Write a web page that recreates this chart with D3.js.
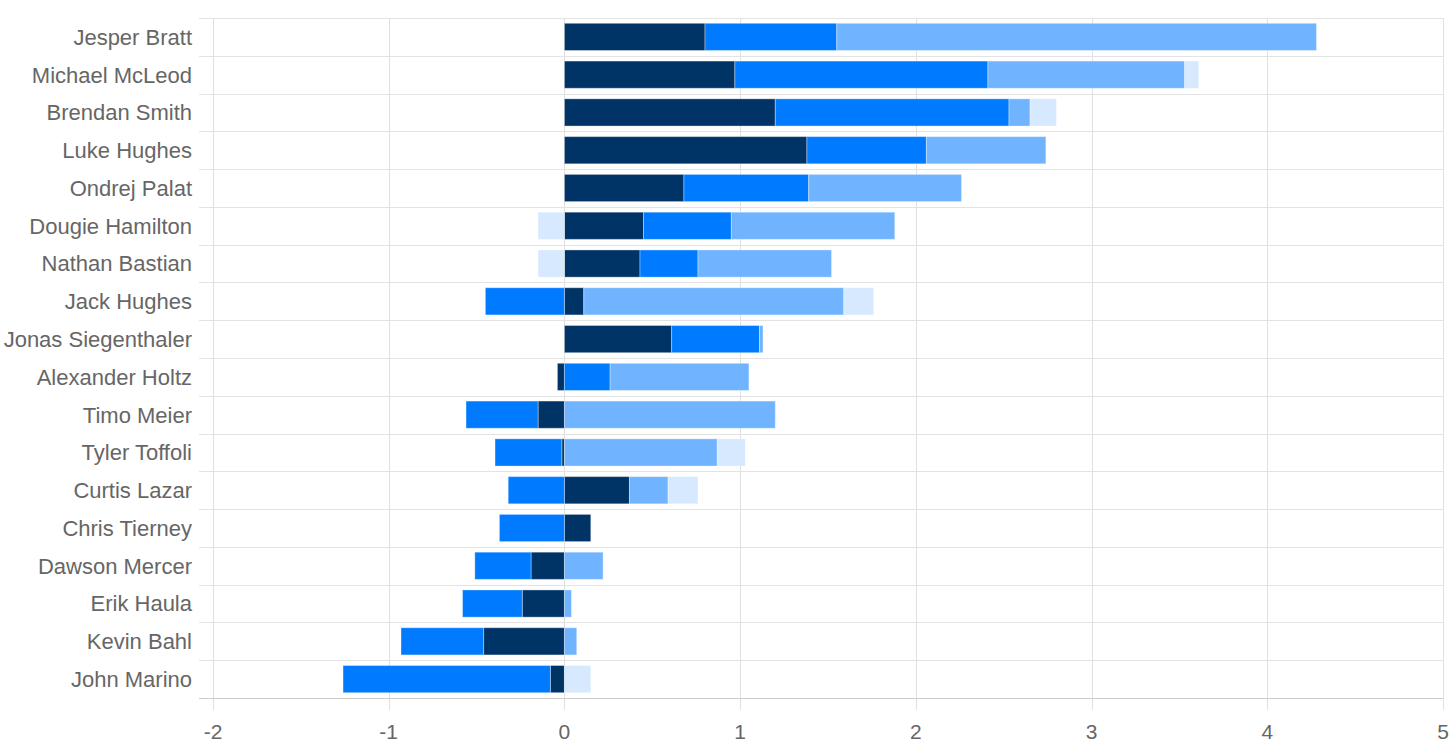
<!DOCTYPE html>
<html>
<head>
<meta charset="utf-8">
<script src="https://cdn.jsdelivr.net/npm/d3@7"></script>
<style>
  html, body { margin: 0; padding: 0; background: #ffffff; }
  svg { display: block; }
  text { font-family: "Liberation Sans", Arial, Helvetica, sans-serif; }
</style>
</head>
<body>
<div id="chart"></div>
<script>
const players = ["Jesper Bratt", "Michael McLeod", "Brendan Smith", "Luke Hughes", "Ondrej Palat",
  "Dougie Hamilton", "Nathan Bastian", "Jack Hughes", "Jonas Siegenthaler", "Alexander Holtz",
  "Timo Meier", "Tyler Toffoli", "Curtis Lazar", "Chris Tierney", "Dawson Mercer",
  "Erik Haula", "Kevin Bahl", "John Marino"];

const seriesNavy   = [0.80, 0.97, 1.20, 1.38, 0.68, 0.45, 0.43, 0.11, 0.61, -0.04, -0.15, -0.015, 0.37, 0.15, -0.19, -0.24, -0.46, -0.08];
const seriesBlue   = [0.75, 1.44, 1.33, 0.68, 0.71, 0.50, 0.33, -0.45, 0.50, 0.26, -0.41, -0.38, -0.32, -0.37, -0.32, -0.34, -0.47, -1.18];
const seriesLight  = [2.73, 1.12, 0.12, 0.68, 0.87, 0.93, 0.76, 1.48, 0.02, 0.79, 1.20, 0.87, 0.22, 0, 0.22, 0.04, 0.07, 0];
const seriesPale   = [0, 0.08, 0.15, 0, 0, -0.15, -0.15, 0.17, 0, 0, 0, 0.16, 0.17, 0, 0, 0, 0, 0.15];

const xTicks = [-2, -1, 0, 1, 2, 3, 4, 5];

const keys = ["navy", "blue", "light", "pale"];
const colors = { navy: "#003366", blue: "#007bff", light: "#70b4ff", pale: "#d6e9ff" };

const rows = players.map((p, i) => ({
  name: p, navy: seriesNavy[i], blue: seriesBlue[i], light: seriesLight[i], pale: seriesPale[i]
}));

(function () {
  const W = 1456, H = 751;
  const pl = 213, pr = 1443, pt = 18, pb = 698;

  const svg = d3.select("#chart").append("svg").attr("width", W).attr("height", H);

  const x = d3.scaleLinear().domain([-2, 5]).range([pl, pr]);
  const y = d3.scaleBand().domain(players).range([pt, pb]).paddingInner(0.28).paddingOuter(0.14);
  const step = y.step();

  // vertical grid lines
  svg.append("g").selectAll("line").data(xTicks).join("line")
    .attr("x1", d => Math.round(x(d)) + 0.5).attr("x2", d => Math.round(x(d)) + 0.5)
    .attr("y1", pt).attr("y2", pb + 12)
    .attr("stroke", "#e0e0e0").attr("stroke-width", 1);

  // horizontal band boundary lines
  const bounds = d3.range(players.length + 1);
  svg.append("g").selectAll("line").data(bounds).join("line")
    .attr("x1", pl - 14).attr("x2", pr)
    .attr("y1", d => Math.round(pt + d * step) + 0.5).attr("y2", d => Math.round(pt + d * step) + 0.5)
    .attr("stroke", d => d === players.length ? "#cccccc" : "#e3e3e3").attr("stroke-width", 1);

  // stacked bars
  const stack = d3.stack().keys(keys).offset(d3.stackOffsetDiverging);
  const stacked = stack(rows);

  svg.append("g").selectAll("g").data(stacked).join("g")
    .attr("fill", d => colors[d.key])
    .selectAll("rect").data(d => d.filter(v => v[1] !== v[0])).join("rect")
    .attr("x", d => x(Math.min(d[0], d[1])))
    .attr("width", d => Math.abs(x(d[1]) - x(d[0])))
    .attr("y", d => y(d.data.name))
    .attr("height", y.bandwidth())
    .attr("stroke", "rgba(255,255,255,0.35)")
    .attr("stroke-width", 1);

  // y labels
  svg.append("g").selectAll("text").data(players).join("text")
    .attr("x", 192)
    .attr("y", d => y(d) + y.bandwidth() / 2)
    .attr("dy", "0.36em")
    .attr("text-anchor", "end")
    .attr("font-size", 22)
    .attr("fill", "#666666")
    .text(d => d);

  // x tick labels
  svg.append("g").selectAll("text").data(xTicks).join("text")
    .attr("x", d => x(d))
    .attr("y", 731)
    .attr("dy", "0.36em")
    .attr("text-anchor", "middle")
    .attr("font-size", 21)
    .attr("fill", "#666666")
    .text(d => d);
})();
</script>
</body>
</html>
